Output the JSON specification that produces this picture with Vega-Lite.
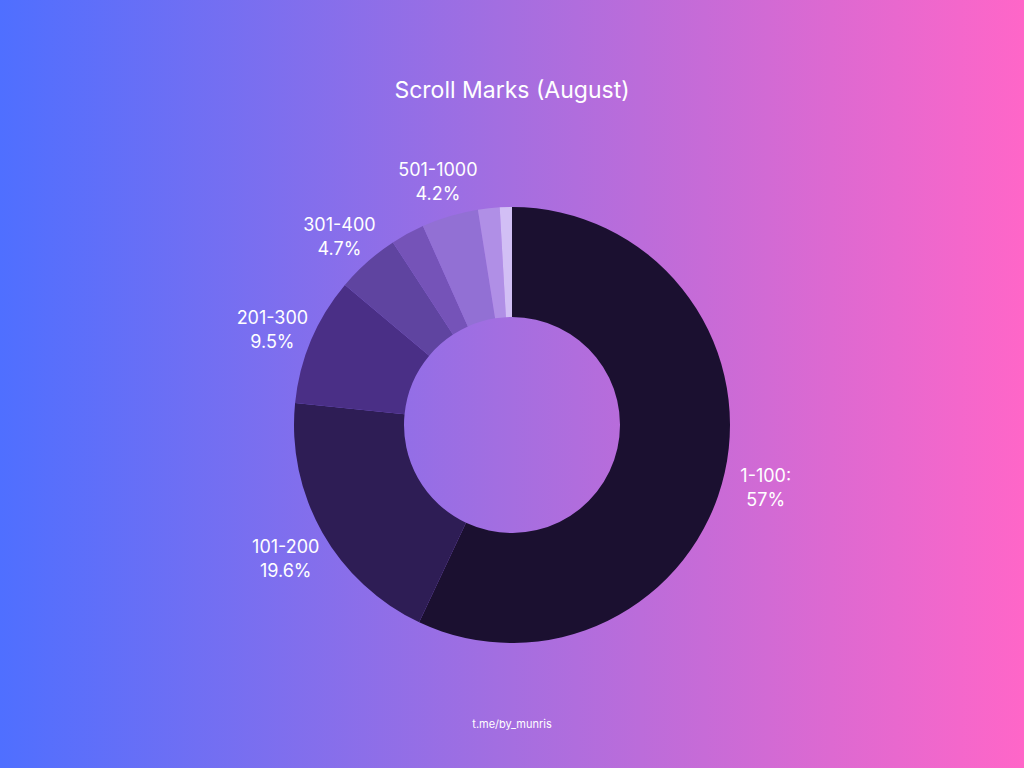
{
"$schema":"https://vega.github.io/schema/vega-lite/v6.json",
"width":1024,"height":768,
"autosize":{"type":"fit","contains":"padding"},
"padding":0,
"config":{"view":{"stroke":null},"font":"Inter"},
"layer":[
{"data":{"values":[{"bg":1}]},"mark":{"type":"rect","x":0,"y":0,"x2":{"expr":"width"},"y2":{"expr":"height"},"color":{"gradient":"linear","x1":0,"y1":0,"x2":1,"y2":0,"stops":[{"offset":0,"color":"#4f6fff"},{"offset":0.5,"color":"#a56ee0"},{"offset":1,"color":"#ff66c8"}]}},"encoding":{}},
{"data":{"name":"d"},"transform":[{"window":[{"op":"row_number","as":"order"}]}],
 "encoding":{"theta":{"field":"pct","type":"quantitative","stack":true},"order":{"field":"order","type":"quantitative"}},
 "layer":[
 {"mark":{"type":"arc","innerRadius":108,"outerRadius":218,"x":{"expr":"width/2"},"y":{"expr":"height/2+41"}},
  "encoding":{"color":{"field":"c","type":"nominal","scale":null,"legend":null}}},
 {"mark":{"type":"text","radius":260,"x":{"expr":"width/2"},"y":{"expr":"height/2+36"},"color":"white","fontSize":18,"lineBreak":"\n","lineHeight":24},
  "encoding":{"text":{"field":"label"}}}
 ]},
{"data":{"values":[{"t":"Scroll Marks (August)"}]},"mark":{"type":"text","x":{"expr":"width/2"},"y":91,"color":"white","fontSize":23},"encoding":{"text":{"field":"t"}}},
{"data":{"values":[{"t":"t.me/by_munris"}]},"mark":{"type":"text","x":{"expr":"width/2"},"y":725,"color":"white","fontSize":11},"encoding":{"text":{"field":"t"}}}
],
"datasets":{"d":[
{"range":"1-100","pct":57,"label":"1-100:\n57%","c":"#1b1030"},
{"range":"101-200","pct":19.6,"label":"101-200\n19.6%","c":"#2e1d55"},
{"range":"201-300","pct":9.5,"label":"201-300\n9.5%","c":"#4a2f86"},
{"range":"301-400","pct":4.7,"label":"301-400\n4.7%","c":"#5f44a0"},
{"range":"401-500","pct":2.5,"label":"","c":"#7553b8"},
{"range":"501-1000","pct":4.2,"label":"501-1000\n4.2%","c":"#9270d4"},
{"range":"1001-5000","pct":1.6,"label":"","c":"#b08fe6"},
{"range":"5000+","pct":0.9,"label":"","c":"#d2bff5"}
]}
}
